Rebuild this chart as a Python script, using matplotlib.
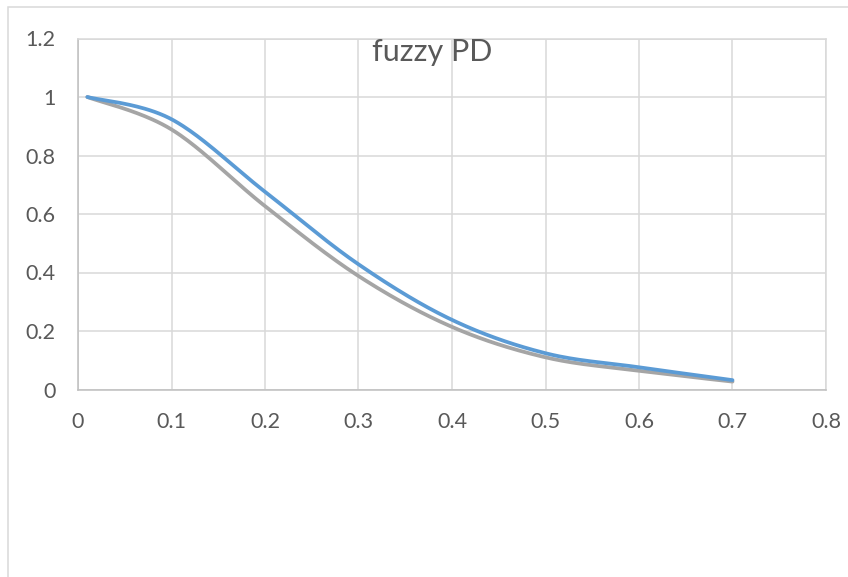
import matplotlib.pyplot as plt
import numpy as np
from matplotlib.patches import Rectangle

plt.switch_backend("agg")
plt.rcParams["font.family"] = ["Lato", "DejaVu Sans"]

# values
x_vals = [0.01, 0.1, 0.2, 0.3, 0.4, 0.5, 0.6, 0.7]
blue_vals = [1.0, 0.924, 0.676, 0.428, 0.238, 0.124, 0.076, 0.032]
gray_vals = [1.0, 0.889, 0.627, 0.388, 0.214, 0.110, 0.064, 0.027]
x_ticks = [0, 0.1, 0.2, 0.3, 0.4, 0.5, 0.6, 0.7, 0.8]
y_ticks = [0, 0.2, 0.4, 0.6, 0.8, 1.0, 1.2]
x_labels = ["0", "0.1", "0.2", "0.3", "0.4", "0.5", "0.6", "0.7", "0.8"]
y_labels = ["0", "0.2", "0.4", "0.6", "0.8", "1", "1.2"]
title = "fuzzy PD"

text_col = "#595959"
grid_col = "#d9d9d9"


def smooth(xs, ys, n=40):
    """Excel-style smoothed line through the points (cubic Bezier segments)."""
    p = np.column_stack([xs, ys]).astype(float)
    out = []
    for i in range(len(p) - 1):
        prev = p[i - 1] if i > 0 else p[i]
        nxt = p[i + 2] if i + 2 < len(p) else p[i + 1]
        c1 = p[i] + (p[i + 1] - prev) / 6
        c2 = p[i + 1] - (nxt - p[i]) / 6
        t = np.linspace(0, 1, n)[:, None]
        seg = ((1 - t) ** 3 * p[i] + 3 * (1 - t) ** 2 * t * c1
               + 3 * (1 - t) * t ** 2 * c2 + t ** 3 * p[i + 1])
        out.append(seg if i == 0 else seg[1:])
    out = np.vstack(out)
    return out[:, 0], out[:, 1]


fig = plt.figure(figsize=(8.48, 5.77), dpi=100)
ax = fig.add_axes([78 / 848, 1 - 389.5 / 577, 748 / 848, 351 / 577])

bx, by = smooth(x_vals, blue_vals)
gx, gy = smooth(x_vals, gray_vals)
ax.plot(bx, by, color="#5b9bd5", lw=2.7, solid_capstyle="round", zorder=3)
ax.plot(gx, gy, color="#a5a5a5", lw=2.7, solid_capstyle="round", zorder=2)

ax.set_xlim(0, 0.8)
ax.set_ylim(0, 1.2)
ax.set_xticks(x_ticks)
ax.set_xticklabels(x_labels)
ax.set_yticks(y_ticks)
ax.set_yticklabels(y_labels)
ax.tick_params(length=0, labelsize=15.5, labelcolor=text_col, pad=16)
ax.grid(True, color=grid_col, lw=1.1)
ax.set_axisbelow(True)
for side in ("top", "right"):
    ax.spines[side].set_color(grid_col)
    ax.spines[side].set_linewidth(1.1)
for side in ("left", "bottom"):
    ax.spines[side].set_color("#bfbfbf")
    ax.spines[side].set_linewidth(1.1)

fig.text(432 / 848, 1 - 52 / 577, title, ha="center", va="center",
         fontsize=22, color=text_col)

# chart-area border (cropped on the right and bottom)
fig.add_artist(Rectangle((8 / 848, -0.1), 1.2, 1.1 - 7 / 577,
                         transform=fig.transFigure, fill=False,
                         ec=grid_col, lw=1.1))

fig.savefig("out.png", dpi=100)
